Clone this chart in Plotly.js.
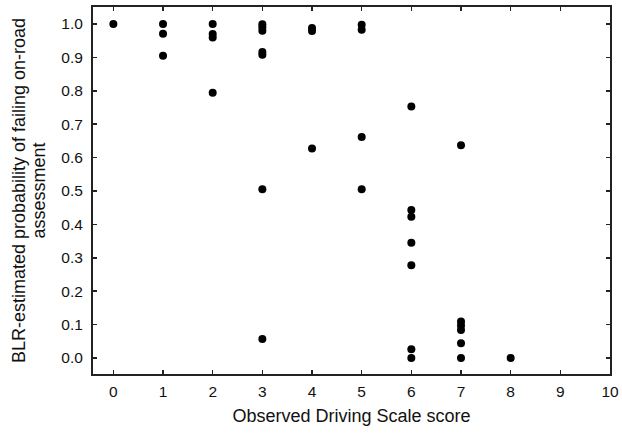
<!DOCTYPE html>
<html>
<head>
<meta charset="utf-8">
<script src="https://cdn.plot.ly/plotly-3.0.1.min.js"></script>
<style>
  html, body { margin: 0; padding: 0; background: #fff; }
  #chart { width: 622px; height: 434px; }
</style>
</head>
<body>
<div id="chart"></div>
<script>
// Observed Driving Scale score (x) and BLR-estimated probability (y)
const scores = [
  0,
  1, 1, 1,
  2, 2, 2, 2,
  3, 3, 3, 3, 3, 3, 3,
  4, 4, 4,
  5, 5, 5, 5,
  6, 6, 6, 6, 6, 6, 6,
  7, 7, 7, 7, 7, 7,
  8
];
const probabilities = [
  1.0,
  1.0, 0.971, 0.905,
  1.0, 0.970, 0.960, 0.794,
  0.999, 0.990, 0.980, 0.916, 0.908, 0.505, 0.057,
  0.988, 0.979, 0.627,
  0.998, 0.983, 0.662, 0.505,
  0.753, 0.443, 0.423, 0.345, 0.278, 0.026, 0.0,
  0.637, 0.109, 0.097, 0.084, 0.044, 0.0,
  0.0
];
const xTicks = [0, 1, 2, 3, 4, 5, 6, 7, 8, 9, 10];
const yTicks = [0.0, 0.1, 0.2, 0.3, 0.4, 0.5, 0.6, 0.7, 0.8, 0.9, 1.0];
const yTitleLines = ['BLR-estimated probability of failing on-road', 'assessment'];

const font = 'Liberation Sans, Arial, Helvetica, sans-serif';
const ink = '#111';

Plotly.newPlot('chart', [{
  type: 'scatter',
  mode: 'markers',
  x: scores,
  y: probabilities,
  marker: { color: '#000', size: 8 },
  hoverinfo: 'x+y'
}], {
  width: 622,
  height: 434,
  margin: { l: 93, r: 12, t: 7, b: 60 },
  paper_bgcolor: '#fff',
  plot_bgcolor: '#fff',
  showlegend: false,
  font: { family: font, color: ink, size: 16 },
  xaxis: {
    range: [-0.41, 10.0],
    tickvals: xTicks,
    ticktext: xTicks.map(String),
    ticks: 'inside',
    ticklen: 4,
    tickwidth: 1.5,
    tickcolor: '#222',
    showgrid: false,
    zeroline: false,
    showline: true,
    linecolor: '#222',
    linewidth: 2,
    mirror: 'ticks',
    automargin: false,
    ticklabelstandoff: 2,
    tickfont: { family: font, size: 15.5, color: ink },
    title: { text: 'Observed Driving Scale score', font: { family: font, size: 18, color: ink }, standoff: 11 }
  },
  yaxis: {
    range: [-0.048, 1.051],
    tickvals: yTicks,
    ticktext: yTicks.map(v => v.toFixed(1)),
    ticks: 'inside',
    ticklen: 4,
    tickwidth: 1.5,
    tickcolor: '#222',
    showgrid: false,
    zeroline: false,
    showline: true,
    linecolor: '#222',
    linewidth: 2,
    mirror: 'ticks',
    automargin: false,
    ticklabelstandoff: 5,
    tickfont: { family: font, size: 15.5, color: ink },
    title: {
      text: yTitleLines.map(s => '<span style="font-size:18px">' + s + '</span>').join('<br>'),
      font: { family: font, size: 15.4, color: ink },
      standoff: 12
    }
  }
}, { displayModeBar: false, staticPlot: true });
</script>
</body>
</html>
